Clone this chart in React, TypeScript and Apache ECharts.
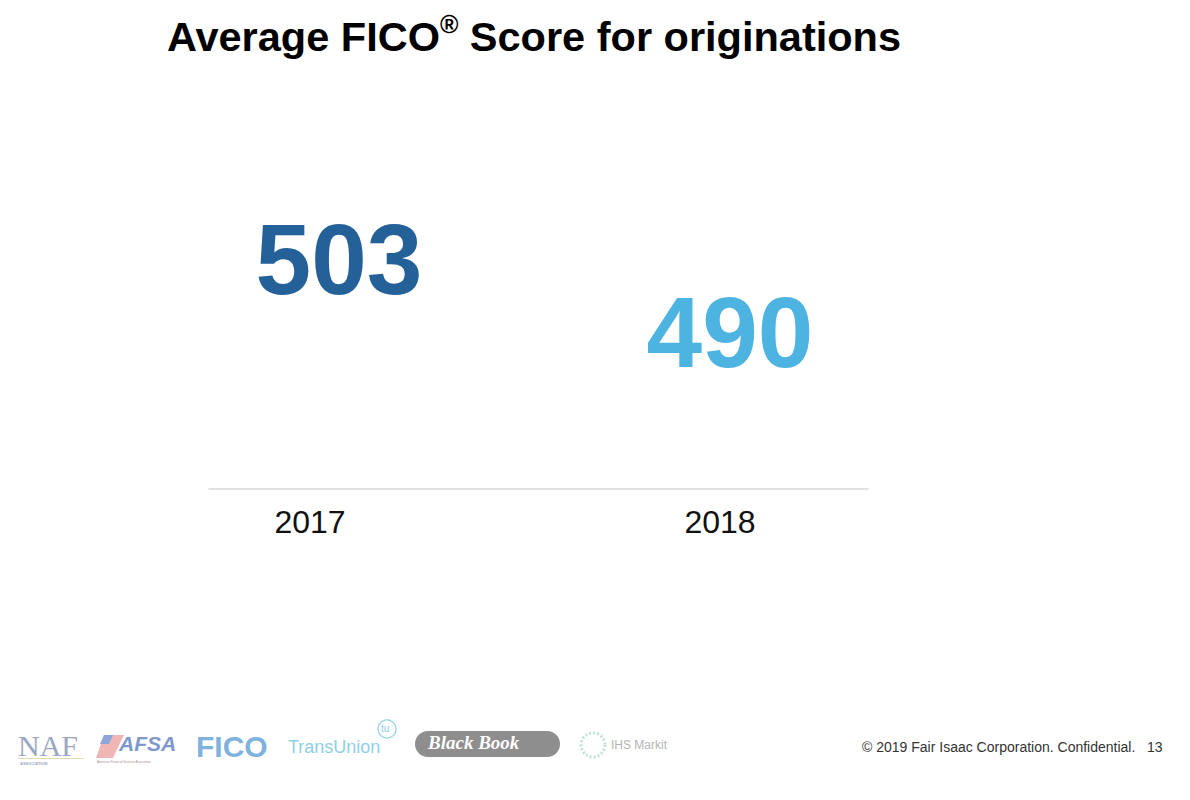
import React, { useEffect, useRef } from "react";
import * as echarts from "echarts";

const years = ["2017", "2018"];
const scores = [503, 490];
const scoreColors = ["#256199", "#4DB3E0"];
const titleParts = ["Average FICO", "®", " Score for originations"];
const footerText = "© 2019 Fair Isaac Corporation. Confidential.   13";
const FONT = "'Liberation Sans', Arial, Helvetica, sans-serif";

export default function App() {
  const ref = useRef<HTMLDivElement>(null);
  useEffect(() => {
    document.body.style.margin = "0";
    const chart = echarts.init(ref.current!, null, { renderer: "svg" });
    const option: any = {
      animation: false,
      backgroundColor: "#ffffff",
      title: {
        left: 162,
        top: 6,
        text: `{b|${titleParts[0]}}{r|${titleParts[1]}}{b|${titleParts[2]}}`,
        textStyle: {
          rich: {
            b: { fontFamily: FONT, fontSize: 41.5, fontWeight: "bold", color: "#000", lineHeight: 50 },
            r: { fontFamily: FONT, fontSize: 25, fontWeight: "bold", color: "#000", verticalAlign: "top", lineHeight: 50, padding: [0, 0, 17, 0] },
          },
        },
      },
      grid: [
        { left: 105, right: 265, top: 96, bottom: 311 },
        { left: 209, right: 322, top: 96, bottom: 311 },
      ],
      xAxis: [
        {
          gridIndex: 0,
          type: "category",
          data: years,
          axisLine: { show: false },
          axisTick: { show: false },
          axisLabel: { fontFamily: FONT, fontSize: 32, color: "#111", margin: 17 },
        },
        {
          gridIndex: 1,
          type: "category",
          data: years,
          axisLine: { show: true, lineStyle: { color: "#d9d9d9", width: 1.5 } },
          axisTick: { show: false },
          axisLabel: { show: false },
        },
      ],
      yAxis: [
        { gridIndex: 0, type: "value", min: 462, max: 532, show: false, splitLine: { show: false } },
        { gridIndex: 1, type: "value", min: 462, max: 532, show: false, splitLine: { show: false } },
      ],
      series: [
        {
          type: "scatter",
          xAxisIndex: 0,
          yAxisIndex: 0,
          symbolSize: 1,
          itemStyle: { color: "rgba(0,0,0,0)", opacity: 1 },
          emphasis: { disabled: true },
          data: scores.map((v, i) => ({
            value: v,
            label: {
              show: true,
              position: "inside",
              formatter: "{c}",
              fontFamily: FONT,
              fontSize: 100,
              fontWeight: "bold",
              color: scoreColors[i],
              offset: [i === 0 ? 29 : 10, 0],
            },
          })),
        },
      ],
      graphic: [
        // NAF logo
        { type: "text", left: 18, top: 730, style: { text: "NAF", font: "30px 'Liberation Serif', 'DejaVu Serif', serif", fill: "#9aa8c2" } },
        { type: "rect", shape: { x: 18, y: 758, width: 66, height: 1 }, style: { fill: "#e6d9b0" } },
        { type: "text", left: 20, top: 761, style: { text: "ASSOCIATION", font: "bold 4px " + FONT, fill: "#9aa8c2" } },
        // AFSA logo
        { type: "polygon", shape: { points: [[104, 735], [124, 735], [113, 758], [96, 758]] }, style: { fill: "#f0b6b6" } },
        { type: "polygon", shape: { points: [[104, 735], [113, 735], [109, 744], [100, 744]] }, style: { fill: "#8ea6d6" } },
        { type: "text", left: 119, top: 733, style: { text: "AFSA", font: "italic bold 21px " + FONT, fill: "#7f97cc" } },
        { type: "text", left: 97, top: 760, style: { text: "American Financial Services Association", font: "3px " + FONT, fill: "#b08a8a" } },
        // FICO logo
        { type: "text", left: 196, top: 731, style: { text: "FICO", font: "bold 30px " + FONT, fill: "#7fb3de" } },
        // TransUnion
        { type: "text", left: 288, top: 738, style: { text: "TransUnion", font: "18px " + FONT, fill: "#8fd0e6" } },
        { type: "circle", shape: { cx: 387, cy: 729, r: 9 }, style: { fill: "none", stroke: "#8fd0e6", lineWidth: 1.2 } },
        { type: "text", left: 381, top: 723, style: { text: "tu", font: "10px " + FONT, fill: "#8fd0e6" } },
        // Black Book
        { type: "rect", shape: { x: 415, y: 731, width: 145, height: 26, r: 13 }, style: { fill: "#8e8e8e" } },
        { type: "text", left: 428, top: 733, style: { text: "Black Book", font: "italic bold 19px 'Liberation Serif', 'DejaVu Serif', serif", fill: "#ffffff" } },
        // IHS Markit
        { type: "circle", shape: { cx: 593, cy: 745, r: 12 }, style: { fill: "none", stroke: "#bfe3d8", lineWidth: 3, lineDash: [2, 2] } },
        { type: "text", left: 611, top: 739, style: { text: "IHS Markit", font: "12px " + FONT, fill: "#b4b4b4" } },
        // footer
        { type: "text", left: 862, top: 740, style: { text: footerText, font: "14px " + FONT, fill: "#333333" } },
      ],
    };
    chart.setOption(option);
    return () => chart.dispose();
  }, []);
  return <div ref={ref} style={{ width: 1190, height: 800, position: "fixed", left: 0, top: 0 }} />;
}
